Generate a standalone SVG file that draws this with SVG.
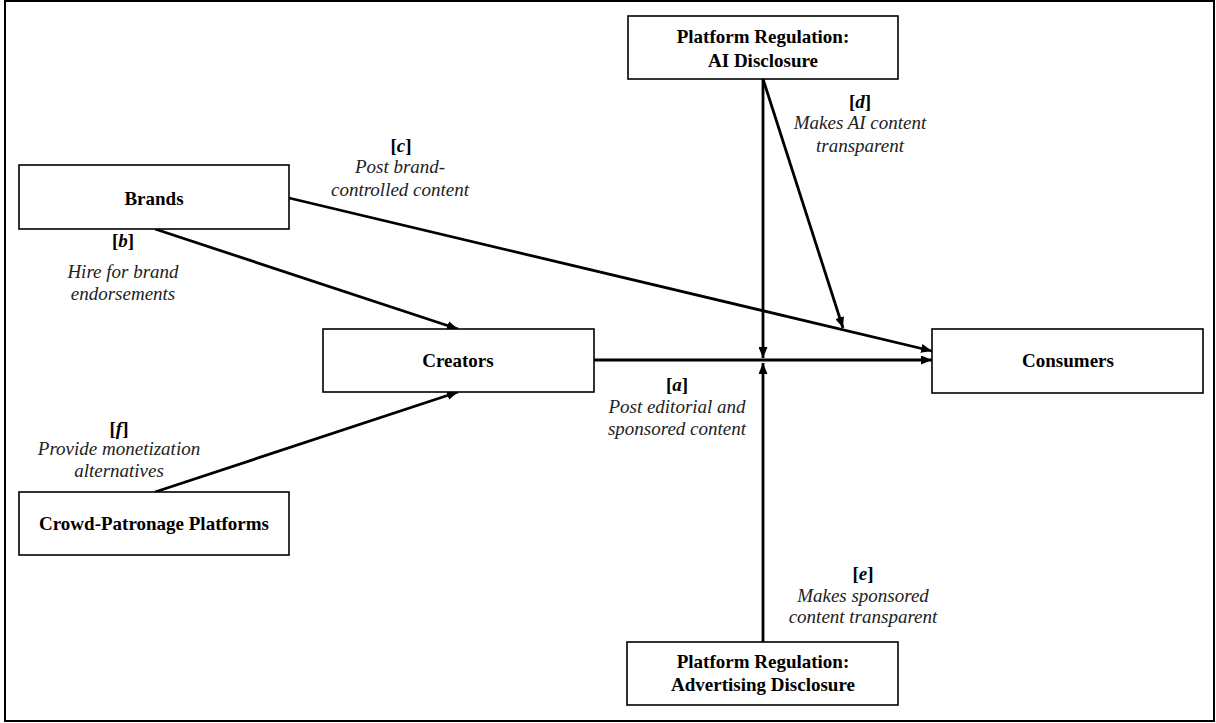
<svg xmlns="http://www.w3.org/2000/svg" width="1216" height="723" viewBox="0 0 1216 723">
<defs>
<style>
.box{fill:#fff;stroke:#000;stroke-width:1.6}
.bt{font-family:"Liberation Serif","Times New Roman",serif;font-weight:bold;font-size:19px;text-anchor:middle;fill:#000}
.lt{font-family:"Liberation Serif","Times New Roman",serif;font-style:italic;font-size:19px;text-anchor:middle;fill:#222}
.lb{font-family:"Liberation Serif","Times New Roman",serif;font-weight:bold;font-size:19px;text-anchor:middle;fill:#000}
.ln{stroke:#000;stroke-width:2.8;fill:none}
</style>
<marker id="ah" markerWidth="11" markerHeight="9" refX="11" refY="4.5" orient="auto" markerUnits="userSpaceOnUse">
<path d="M0,0 L11,4.5 L0,9 Z" fill="#000"/>
</marker>
</defs>
<rect width="1216" height="723" fill="#fff"/>
<rect x="5" y="1" width="1209" height="720" fill="none" stroke="#000" stroke-width="2"/>
<g id="connectors">
<line class="ln" x1="594" y1="360" x2="932" y2="360" marker-end="url(#ah)"/>
<line class="ln" x1="289" y1="198" x2="932" y2="351" marker-end="url(#ah)"/>
<line class="ln" x1="155" y1="229" x2="458" y2="329" marker-end="url(#ah)"/>
<line class="ln" x1="155" y1="492" x2="458" y2="392" marker-end="url(#ah)"/>
<line class="ln" x1="763" y1="79" x2="763" y2="358" marker-end="url(#ah)"/>
<line class="ln" x1="763" y1="79" x2="843" y2="328" marker-end="url(#ah)"/>
<line class="ln" x1="763" y1="642" x2="763" y2="363" marker-end="url(#ah)"/>
</g>
<g id="brands">
<rect class="box" x="19" y="165" width="270" height="64"/>
<text class="bt" x="154" y="205">Brands</text>
</g>
<g id="creators">
<rect class="box" x="323" y="329" width="271" height="63"/>
<text class="bt" x="458" y="367">Creators</text>
</g>
<g id="consumers">
<rect class="box" x="932" y="329" width="271" height="64"/>
<text class="bt" x="1068" y="367">Consumers</text>
</g>
<g id="crowd">
<rect class="box" x="19" y="492" width="270" height="63"/>
<text class="bt" x="154" y="530">Crowd-Patronage Platforms</text>
</g>
<g id="ai-disclosure">
<rect class="box" x="628" y="16" width="270" height="63"/>
<text class="bt" x="763" y="43">Platform Regulation:</text>
<text class="bt" x="763" y="67">AI Disclosure</text>
</g>
<g id="ad-disclosure">
<rect class="box" x="627" y="642" width="271" height="63"/>
<text class="bt" x="763" y="668">Platform Regulation:</text>
<text class="bt" x="763" y="691">Advertising Disclosure</text>
</g>
<g id="labels">
<text class="lb" x="401" y="152">[<tspan font-style="italic">c</tspan>]</text>
<text class="lt" x="400" y="173">Post brand-</text>
<text class="lt" x="400" y="196">controlled content</text>
<text class="lb" x="123" y="247">[<tspan font-style="italic">b</tspan>]</text>
<text class="lt" x="123" y="278">Hire for brand</text>
<text class="lt" x="123" y="300">endorsements</text>
<text class="lb" x="677" y="391">[<tspan font-style="italic">a</tspan>]</text>
<text class="lt" x="677" y="413">Post editorial and</text>
<text class="lt" x="677" y="435">sponsored content</text>
<text class="lb" x="860" y="108">[<tspan font-style="italic">d</tspan>]</text>
<text class="lt" x="860" y="129">Makes AI content</text>
<text class="lt" x="860" y="152">transparent</text>
<text class="lb" x="863" y="580">[<tspan font-style="italic">e</tspan>]</text>
<text class="lt" x="863" y="602">Makes sponsored</text>
<text class="lt" x="863" y="623">content transparent</text>
<text class="lb" x="119" y="435">[<tspan font-style="italic">f</tspan>]</text>
<text class="lt" x="119" y="455">Provide monetization</text>
<text class="lt" x="119" y="477">alternatives</text>
</g>
</svg>
